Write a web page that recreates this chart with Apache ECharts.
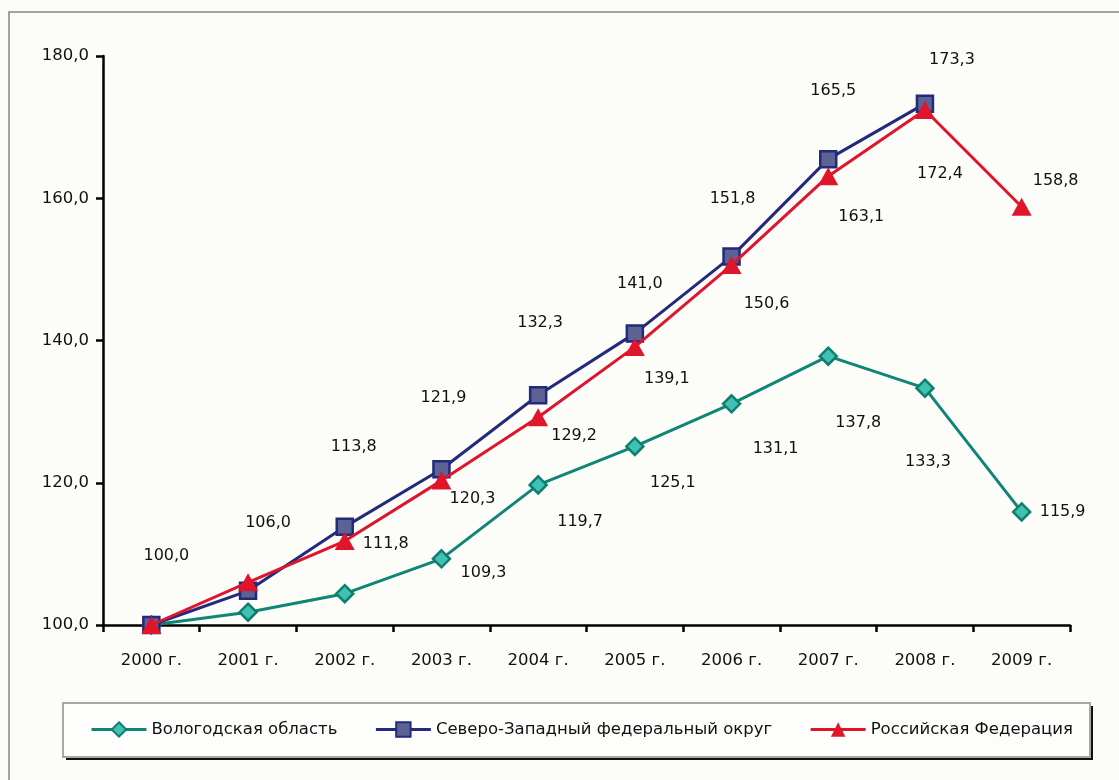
<!DOCTYPE html>
<html><head><meta charset="utf-8">
<script src="https://cdn.jsdelivr.net/npm/echarts@6/dist/echarts.min.js"></script>
<style>html,body{margin:0;padding:0;background:#fcfcf8;}#c{width:1119px;height:780px;}</style>
</head><body><div id="c"></div>
<script>
const categories = ['2000 г.','2001 г.','2002 г.','2003 г.','2004 г.','2005 г.','2006 г.','2007 г.','2008 г.','2009 г.'];
const seriesNames = ['Вологодская область','Северо-Западный федеральный округ','Российская Федерация'];
const vologda = [100.0, 101.8, 104.4, 109.3, 119.7, 125.1, 131.1, 137.8, 133.3, 115.9];
const nwfd    = [100.0, 104.8, 113.8, 121.9, 132.3, 141.0, 151.8, 165.5, 173.3, null];
const russia  = [100.0, 106.0, 111.8, 120.3, 129.2, 139.1, 150.6, 163.1, 172.4, 158.8];
// which points carry a data label
const vologdaLabelShown = [true, false, false, true, true, true, true, true, true, true];
const nwfdLabelShown    = [false, false, true, true, true, true, true, true, true, false];
const russiaLabelShown  = [false, true, true, true, true, true, true, true, true, true];
const yTicks = [100, 120, 140, 160, 180];

// label offsets (style only)
const vologdaOff = [[15,-69],[0,0],[0,0],[42,14],[42,37],[38,36],[44,45],[30,67],[3,74],[41,0]];
const nwfdOff    = [[0,0],[0,0],[9,-80],[2,-71],[2,-72],[5,-50],[1,-58],[5,-68],[27,-44],[0,0]];
const russiaOff  = [[0,0],[20,-59],[41,3],[31,18],[36,19],[32,32],[35,39],[33,41],[15,64],[34,-26]];

const fmt = v => v.toFixed(1).replace('.', ',');
const FONT = 'DejaVu Sans';

function build(vals, shown, offs) {
  return vals.map((v, i) => ({
    value: v,
    label: {show: v != null && shown[i], position: 'inside', offset: offs[i],
            formatter: p => fmt(p.value), color: '#111', fontFamily: FONT, fontSize: 16}
  }));
}

const chart = echarts.init(document.getElementById('c'), null, {renderer: 'canvas'});
chart.setOption({
  backgroundColor: '#fcfcf8',
  animation: false,
  graphic: [
    {type: 'rect', shape: {x: 9, y: 12, width: 1120, height: 800}, style: {fill: 'none', stroke: '#a3a3a3', lineWidth: 2}, z: 0},
    {type: 'rect', shape: {x: 66, y: 706, width: 1027, height: 54}, style: {fill: '#111'}, z: 1},
    {type: 'rect', shape: {x: 63, y: 703, width: 1027, height: 54}, style: {fill: '#fdfdfb', stroke: '#a8a8a8', lineWidth: 2}, z: 2}
  ],
  grid: {left: 103, right: 49, top: 56, bottom: 155, containLabel: false},
  legend: {
    data: seriesNames, left: 85, top: 716, itemWidth: 55, itemHeight: 18, itemGap: 37,
    lineStyle: {width: 3},
    textStyle: {fontFamily: FONT, fontSize: 16.5, color: '#111'}, z: 5
  },
  xAxis: {
    type: 'category', data: categories, boundaryGap: true,
    axisLine: {lineStyle: {color: '#000', width: 2.5}},
    axisTick: {show: true, interval: 0, length: 7, lineStyle: {color: '#000', width: 2.5}},
    axisLabel: {interval: 0, margin: 27, color: '#111', fontFamily: FONT, fontSize: 16.5},
    splitLine: {show: false}
  },
  yAxis: {
    type: 'value', min: 100, max: 180, interval: 20,
    axisLine: {show: true, lineStyle: {color: '#000', width: 2.5}},
    axisTick: {show: true, length: 7, lineStyle: {color: '#000', width: 2.5}},
    axisLabel: {margin: 14, color: '#111', fontFamily: FONT, fontSize: 16.5,
                formatter: v => yTicks.includes(v) ? fmt(v) : ''},
    splitLine: {show: false}
  },
  series: [
    {name: seriesNames[0], type: 'line', data: build(vologda, vologdaLabelShown, vologdaOff),
     symbol: 'diamond', symbolSize: 17, showAllSymbol: true,
     lineStyle: {color: '#0f8576', width: 3},
     itemStyle: {color: '#3fc2b1', borderColor: '#0f7d6f', borderWidth: 2.5}, z: 2},
    {name: seriesNames[1], type: 'line', data: build(nwfd, nwfdLabelShown, nwfdOff),
     symbol: 'rect', symbolSize: 16, showAllSymbol: true, connectNulls: false,
     lineStyle: {color: '#232a7c', width: 3},
     itemStyle: {color: '#5b6394', borderColor: '#232a7c', borderWidth: 2.5}, z: 3},
    {name: seriesNames[2], type: 'line', data: build(russia, russiaLabelShown, russiaOff),
     symbol: 'triangle', symbolSize: [20, 18], showAllSymbol: true,
     lineStyle: {color: '#e0142b', width: 3},
     itemStyle: {color: '#e0142b', borderColor: '#e0142b', borderWidth: 0}, z: 4}
  ]
});
</script></body></html>
